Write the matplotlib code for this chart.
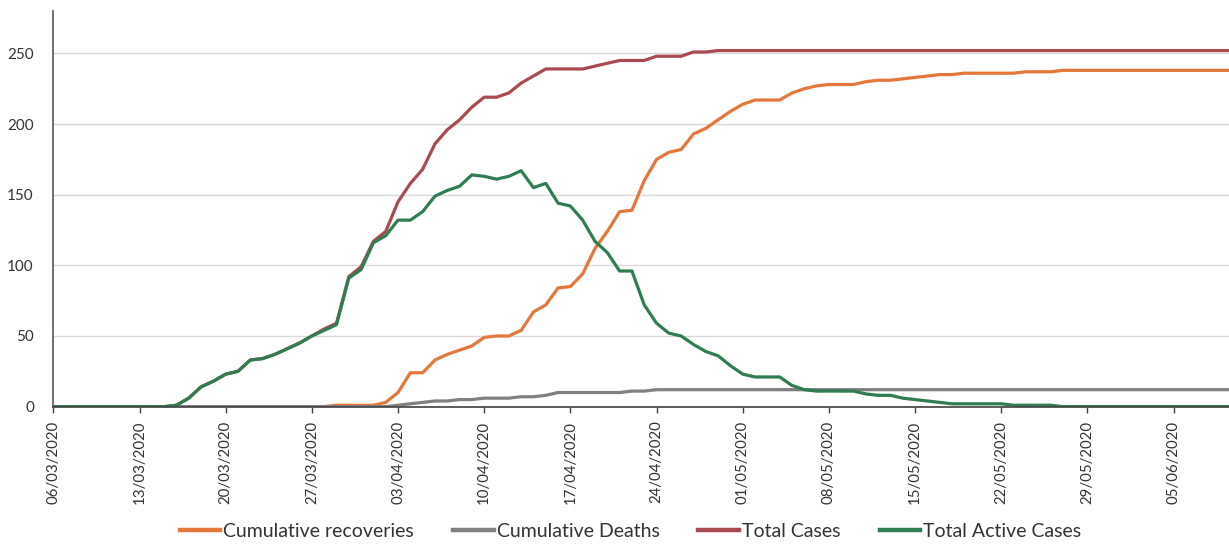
import matplotlib
matplotlib.use("Agg")
import matplotlib.pyplot as plt
import matplotlib.dates as mdates
import numpy as np
import pandas as pd

start_date = "2020-03-06"

total_cases = [0]*10 + [1, 6, 14, 18, 23, 25, 33, 34, 37, 41, 45, 50, 55, 59, 92, 99, 117, 124,
               145, 158, 168, 186, 196, 203, 212, 219, 219, 222, 229, 234, 239, 239, 239, 239,
               241, 243, 245, 245, 245, 248, 248, 248, 251, 251] + [252]*43

recoveries = [0]*23 + [1, 1, 1, 1, 3, 10, 24, 24, 33, 37, 40, 43, 49, 50, 50, 54, 67, 72, 84, 85,
              94, 112, 124, 138, 139, 160, 175, 180, 182, 193, 197, 203, 209, 214, 217, 217, 217,
              222, 225, 227, 228, 228, 228, 230, 231, 231, 232, 233, 234, 235, 235, 236, 236, 236,
              236, 236, 237, 237, 237] + [238]*15

deaths = [0]*28 + [1, 2, 3, 4, 4, 5, 5, 6, 6, 6, 7, 7, 8, 10, 10, 10, 10, 10, 10, 11, 11] + [12]*48

active = [0]*10 + [1, 6, 14, 18, 23, 25, 33, 34, 37, 41, 45, 50, 54, 58, 91, 97, 116, 121,
          132, 132, 138, 149, 153, 156, 164, 163, 161, 163, 167, 155, 158, 144, 142, 132, 117,
          109, 96, 96, 72, 59, 52, 50, 44, 39, 36, 29, 23, 21, 21, 21, 15, 12, 11, 11, 11, 11,
          9, 8, 8, 6, 5, 4, 3, 2, 2, 2, 2, 2, 1, 1, 1, 1] + [0]*15

series_names = ["Cumulative recoveries", "Cumulative Deaths", "Total Cases", "Total Active Cases"]
colors = ["#E5773A", "#7F7F84", "#A94A50", "#2F7D50"]

n = len(total_cases)
dates = pd.date_range(start_date, periods=n, freq="D")

plt.rcParams['font.family'] = ['Lato', 'DejaVu Sans']

fig = plt.figure(figsize=(12.29, 5.51), dpi=100)
ax = fig.add_axes([0.0434, 0.262, 0.9566, 0.718])

for vals, name, c in zip([recoveries, deaths, total_cases, active], series_names, colors):
    ax.plot(dates, vals, color=c, lw=2.3, label=name, solid_joinstyle='round')

ax.set_ylim(0, 280)
ax.set_yticks([0, 50, 100, 150, 200, 250])
ax.set_xlim(pd.Timestamp(start_date), pd.Timestamp(start_date) + pd.Timedelta(days=95.5))
ticks = pd.date_range(start_date, periods=14, freq="7D")
ax.set_xticks(ticks)
ax.xaxis.set_major_formatter(mdates.DateFormatter("%d/%m/%Y"))

ax.grid(axis='y', color='#D9D9D9', lw=1)
ax.set_axisbelow(True)
for s in ['top', 'right']:
    ax.spines[s].set_visible(False)
ax.spines['left'].set_color('#595959')
ax.spines['bottom'].set_color('#404040')
ax.spines['left'].set_linewidth(1.2)
ax.spines['bottom'].set_linewidth(1.2)

ax.tick_params(axis='y', length=0, pad=14, labelsize=11, labelcolor='#333333')
ax.tick_params(axis='x', length=4, width=1, direction='out', color='#404040',
               pad=6, labelsize=10.8, labelcolor='#333333', labelrotation=90)

leg = fig.legend(loc='lower center', bbox_to_anchor=(0.513, -0.012), ncol=4, frameon=False,
                 fontsize=14, handlelength=2.1, handletextpad=0.15, columnspacing=2.0,
                 labelcolor='#333333')
for h in leg.get_lines():
    h.set_linewidth(3.2)

fig.savefig("out.png", dpi=100)
